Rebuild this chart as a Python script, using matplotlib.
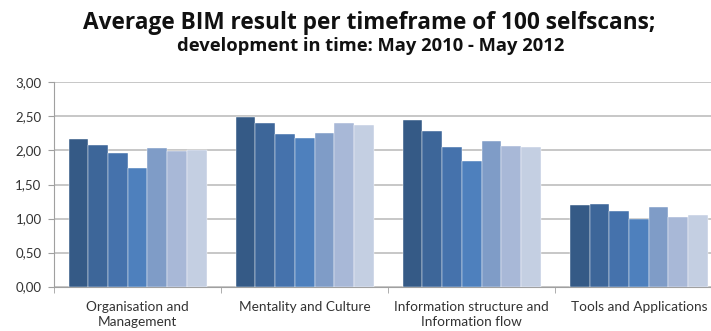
import matplotlib.pyplot as plt
import numpy as np
from matplotlib.ticker import FixedLocator, FuncFormatter

plt.rcParams['font.family'] = ['Lato', 'DejaVu Sans']

categories = ['Organisation and\nManagement', 'Mentality and Culture',
              'Information structure and\nInformation flow', 'Tools and Applications']

# average score per timeframe (7 timeframes, May 2010 - May 2012)
period_1 = [2.17, 2.49, 2.45, 1.20]
period_2 = [2.08, 2.41, 2.28, 1.22]
period_3 = [1.97, 2.24, 2.05, 1.11]
period_4 = [1.75, 2.18, 1.85, 0.99]
period_5 = [2.03, 2.25, 2.14, 1.17]
period_6 = [1.99, 2.40, 2.07, 1.03]
period_7 = [2.01, 2.37, 2.05, 1.05]

colors = ['#355A86', '#3D6699', '#4572AC', '#4E80BD', '#7F9CC7', '#A8B8D7', '#C4CFE2']

series = [period_1, period_2, period_3, period_4, period_5, period_6, period_7]

fig = plt.figure(figsize=(7.11, 3.31), dpi=100)
ax = fig.add_axes([0.076, 0.134, 0.940, 0.617])

x = np.arange(len(categories))
w = 0.826 / len(series)
for i, vals in enumerate(series):
    ax.bar(x - 0.413 + w * (i + 0.5), vals, width=w, color=colors[i],
           edgecolor='white', linewidth=0.3, zorder=3)

ax.set_xlim(-0.5, len(categories) - 0.5)
ax.set_ylim(0, 3)
ax.set_yticks(np.arange(0, 3.01, 0.5))
ax.yaxis.set_major_formatter(FuncFormatter(lambda v, p: f'{v:.2f}'.replace('.', ',')))
ax.yaxis.grid(True, color='#BEBEBE', linewidth=1.2, zorder=0)

ax.set_xticks(x)
ax.set_xticklabels(categories, fontsize=9.8, color='#333333', linespacing=1.25)
ax.tick_params(axis='x', length=0, pad=10.5)
ax.xaxis.set_minor_locator(FixedLocator(np.arange(-0.5, len(categories), 1.0)))
ax.tick_params(axis='x', which='minor', length=4, color='#A0A0A0', direction='out')
ax.tick_params(axis='y', labelsize=9.5, labelcolor='#333333', length=4, color='#A0A0A0', pad=5)

for side in ['top', 'right']:
    ax.spines[side].set_visible(False)
ax.spines['left'].set_color('#A0A0A0')
ax.spines['bottom'].set_color('#A0A0A0')

fig.text(0.519, 0.932, 'Average BIM result per timeframe of 100 selfscans;',
         ha='center', va='center', fontsize=16.3, fontweight='bold', color='#111111',
         family=['Open Sans', 'DejaVu Sans'])
fig.text(0.521, 0.862, 'development in time: May 2010 - May 2012',
         ha='center', va='center', fontsize=13.2, fontweight='bold', color='#111111',
         family=['Open Sans', 'DejaVu Sans'])

fig.savefig('out.png', dpi=100)
